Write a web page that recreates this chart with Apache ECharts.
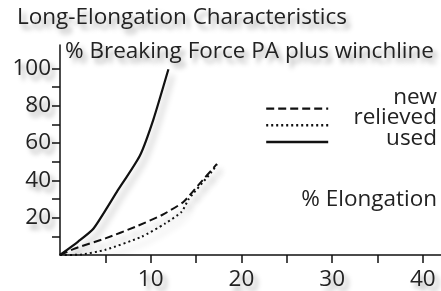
<!DOCTYPE html>
<html>
<head>
<meta charset="utf-8">
<script src="https://cdn.jsdelivr.net/npm/echarts@6/dist/echarts.min.js"></script>
<style>
html, body { margin: 0; padding: 0; background: #fff; }
#chart { width: 441px; height: 291px; }
</style>
</head>
<body>
<div id="chart"></div>
<script>
// curves (x = % elongation, y = % breaking force)
var newX = [0, 1.65, 5, 8.3, 11.2, 13.6, 15.2, 17.3];
var newY = [0, 3.5, 8.9, 15.1, 21.3, 28.4, 37.2, 48.8];
var relievedX = [0, 2.2, 5, 9, 11.6, 13.4, 14.2, 16.7, 17.3];
var relievedY = [0, 0.2, 2.8, 9.8, 16.9, 23.1, 30, 44.4, 48.5];
var usedX = [0, 2, 3.7, 6.25, 8.8, 10.3, 11.95];
var usedY = [0, 7.2, 14.2, 33.7, 53.2, 72.7, 99.5];

var seriesNames = ['new', 'relieved', 'used'];
var xTicks = [5, 10, 15, 20, 25, 30, 35, 40];
var xLabels = [10, 20, 30, 40];
var yTicks = [10, 20, 30, 40, 50, 60, 70, 80, 90, 100];
var yLabels = [20, 40, 60, 80, 100];

function pairs(xs, ys) {
    var out = [];
    for (var i = 0; i < xs.length; i++) {
        out.push([xs[i], ys[i]]);
    }
    return out;
}

var font = 'Open Sans';
var fs = 22.5;
var shade = {
    textShadowColor: 'rgba(0,0,0,0.35)',
    textShadowBlur: 5,
    textShadowOffsetX: 4,
    textShadowOffsetY: 5
};
var lineShade = {
    shadowColor: 'rgba(0,0,0,0.3)',
    shadowBlur: 6,
    shadowOffsetX: 4,
    shadowOffsetY: 6
};

function txt(extra) {
    var s = { fontFamily: font, fontSize: fs, color: '#222' };
    for (var k in shade) s[k] = shade[k];
    for (var k2 in (extra || {})) s[k2] = extra[k2];
    return s;
}

// plain zrender text for the legend labels and x axis title
function label(text, x, y) {
    return {
        type: 'text',
        x: x,
        y: y,
        style: {
            text: text,
            font: fs + 'px "Open Sans"',
            fill: '#222',
            align: 'right',
            verticalAlign: 'middle',
            shadowColor: 'rgba(0,0,0,0.35)',
            shadowBlur: 5,
            shadowOffsetX: 4,
            shadowOffsetY: 5
        }
    };
}

function line(name, xs, ys, type, width) {
    var ls = { color: '#111', width: width, type: type };
    for (var k in lineShade) ls[k] = lineShade[k];
    return {
        name: name,
        type: 'line',
        smooth: 0.2,
        symbol: 'none',
        lineStyle: ls,
        itemStyle: { color: '#111' },
        data: pairs(xs, ys)
    };
}

var myChart = echarts.init(document.getElementById('chart'));
var option = {
    backgroundColor: '#fff',
    animation: false,
    title: {
        text: 'Long-Elongation Characteristics',
        left: 12,
        top: 1,
        textStyle: txt({ fontWeight: 'normal' })
    },
    grid: { left: 60, right: 0, top: 45, bottom: 34 },
    legend: {
        orient: 'vertical',
        left: 260,
        top: 98,
        itemWidth: 62,
        itemHeight: 14,
        itemGap: 5.5,
        data: seriesNames,
        formatter: function () { return ''; },
        itemStyle: { opacity: 0 },
        lineStyle: { width: 2.4 },
        textStyle: { fontSize: 8, lineHeight: 8 }
    },
    xAxis: {
        type: 'value',
        min: 0,
        max: 42,
        axisLine: { lineStyle: { color: '#111', width: 1.5 } },
        axisTick: { show: true, length: 8, customValues: xTicks, lineStyle: { color: '#111', width: 1.5 } },
        axisLabel: txt({ margin: 13, customValues: xLabels }),
        splitLine: { show: false }
    },
    yAxis: {
        type: 'value',
        min: 0,
        max: 112.5,
        name: '% Breaking Force PA plus winchline',
        nameLocation: 'end',
        nameGap: -7,
        nameTextStyle: txt({ align: 'left', verticalAlign: 'middle', padding: [0, 0, 0, 5] }),
        axisLine: { show: true, lineStyle: { color: '#111', width: 1.5 } },
        axisTick: { show: true, length: 8, customValues: yTicks, lineStyle: { color: '#111', width: 1.5 } },
        axisLabel: txt({ margin: 9, customValues: yLabels }),
        splitLine: { show: false }
    },
    graphic: [
        label('% Elongation', 437, 200),
        label(seriesNames[0], 437, 98),
        label(seriesNames[1], 437, 118),
        label(seriesNames[2], 437, 139)
    ],
    series: [
        line(seriesNames[0], newX, newY, [8, 4], 2),
        line(seriesNames[1], relievedX, relievedY, [2, 3], 2),
        line(seriesNames[2], usedX, usedY, 'solid', 2.2)
    ]
};
myChart.setOption(option);
</script>
</body>
</html>
